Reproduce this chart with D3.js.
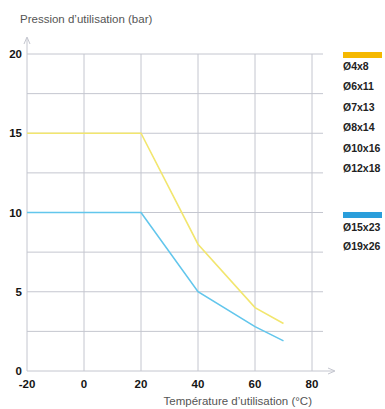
<!DOCTYPE html>
<html><head><meta charset="utf-8">
<script src="https://cdn.jsdelivr.net/npm/d3@7"></script>
<style>body{margin:0;background:#fff}svg{display:block}</style>
</head><body>
<svg id="c" width="385" height="409"></svg>
<script>
const temps = [-20, 20, 40, 60, 70];
const yellowValues = [15, 15, 8, 4, 3];
const blueValues = [10, 10, 5, 2.8, 1.9];
const xTicks = [-20, 0, 20, 40, 60, 80];
const yTicks = [0, 5, 10, 15, 20];
const yGrid = [2.5, 5, 7.5, 10, 12.5, 15, 17.5, 20];
const yellowLabels = ["Ø4x8", "Ø6x11", "Ø7x13", "Ø8x14", "Ø10x16", "Ø12x18"];
const blueLabels = ["Ø15x23", "Ø19x26"];

const svg = d3.select("#c");
const x = d3.scaleLinear().domain([-20, 80]).range([27, 312]);
const y = d3.scaleLinear().domain([0, 20]).range([371, 54]);
const gridC = "#c4c6cf";
const font = "'Liberation Sans',Arial,sans-serif";

// grid
svg.append("g").selectAll("line").data(yGrid).join("line")
  .attr("x1", x(-20)).attr("x2", 323).attr("y1", d => y(d)).attr("y2", d => y(d))
  .attr("stroke", gridC).attr("stroke-width", 1);
svg.append("g").selectAll("line").data(xTicks.slice(1)).join("line")
  .attr("x1", d => x(d)).attr("x2", d => x(d)).attr("y1", y(20)).attr("y2", y(0))
  .attr("stroke", gridC).attr("stroke-width", 1);
// axes with arrows
svg.append("line").attr("x1", x(-20)).attr("x2", x(-20)).attr("y1", y(0)).attr("y2", 38)
  .attr("stroke", gridC).attr("stroke-width", 1);
svg.append("path").attr("d", `M${x(-20)-3},44 L${x(-20)},37 L${x(-20)+3},44`)
  .attr("fill", "none").attr("stroke", gridC);
svg.append("line").attr("x1", x(-20)).attr("x2", 334).attr("y1", y(0)).attr("y2", y(0))
  .attr("stroke", gridC).attr("stroke-width", 1);
svg.append("path").attr("d", `M328,${y(0)-3} L335,${y(0)} L328,${y(0)+3}`)
  .attr("fill", "none").attr("stroke", gridC);

// lines
const line = d3.line().x((d, i) => x(temps[i])).y(d => y(d));
svg.append("path").datum(yellowValues).attr("d", line)
  .attr("fill", "none").attr("stroke", "#f2e66e").attr("stroke-width", 1.6);
svg.append("path").datum(blueValues).attr("d", line)
  .attr("fill", "none").attr("stroke", "#62c6ec").attr("stroke-width", 1.6);

// tick labels
svg.append("g").selectAll("text").data(yTicks).join("text")
  .attr("x", 22).attr("y", d => y(d) + 4).attr("text-anchor", "end")
  .attr("font-family", font).attr("font-weight", "bold").attr("font-size", 11.5)
  .attr("fill", "#151515").text(d => d);
svg.append("g").selectAll("text").data(xTicks).join("text")
  .attr("x", d => x(d)).attr("y", 388).attr("text-anchor", "middle")
  .attr("font-family", font).attr("font-weight", "bold").attr("font-size", 11.5)
  .attr("fill", "#151515").text(d => d);

// axis titles
svg.append("text").attr("x", 20).attr("y", 23).attr("font-family", font)
  .attr("font-size", 11.5).attr("fill", "#555").text("Pression d’utilisation (bar)");
svg.append("text").attr("x", 312).attr("y", 405).attr("text-anchor", "end").attr("font-family", font)
  .attr("font-size", 11.5).attr("fill", "#555").text("Température d’utilisation (°C)");

// legend
svg.append("rect").attr("x", 343).attr("y", 52).attr("width", 39).attr("height", 6).attr("fill", "#f5b800");
svg.append("g").selectAll("text").data(yellowLabels).join("text")
  .attr("x", 343).attr("y", (d, i) => 70 + i * 20.4)
  .attr("font-family", font).attr("font-weight", "bold").attr("font-size", 10.5)
  .attr("fill", "#222").text(d => d);
svg.append("rect").attr("x", 343).attr("y", 212).attr("width", 39).attr("height", 6).attr("fill", "#2a9edb");
svg.append("g").selectAll("text").data(blueLabels).join("text")
  .attr("x", 343).attr("y", (d, i) => 231 + i * 19)
  .attr("font-family", font).attr("font-weight", "bold").attr("font-size", 10.5)
  .attr("fill", "#222").text(d => d);
</script>
</body></html>
